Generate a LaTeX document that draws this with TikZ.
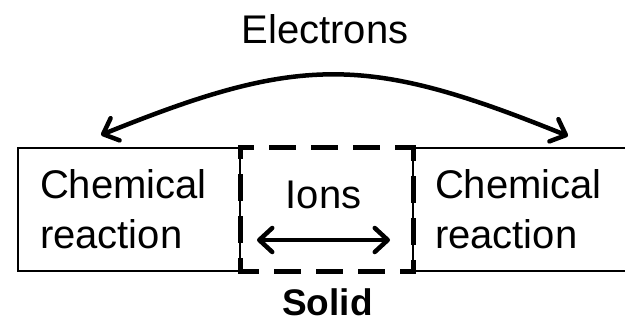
\documentclass[tikz,border=0pt]{standalone}
\usepackage{fontspec}
\setmainfont{Liberation Sans}
\usetikzlibrary{arrows.meta}
\begin{document}
\begin{tikzpicture}[x=1pt,y=-1pt,
  reactbox/.style={draw, line width=2.2pt, outer sep=0pt, anchor=north west,
    minimum width=222pt, minimum height=123pt, text width=178pt,
    inner xsep=22pt, inner ysep=0pt, align=left,
    font=\fontsize{40}{50}\selectfont},
  label/.style={font=\fontsize{40}{50}\selectfont, anchor=base, inner sep=0pt},
  solidbox/.style={draw=none, outer sep=0pt, inner sep=0pt, anchor=north west,
    minimum width=173pt, minimum height=124pt},
  dashside/.style={line width=5pt, line cap=rect, dash pattern=on 22pt off 20pt, dash phase=11pt},
  flow/.style={line width=4.5pt, {Straight Barb[length=13pt,width=24pt,round]}-{Straight Barb[length=13pt,width=24pt,round]}}
]
\useasboundingbox (0,0) rectangle (625,322);
\clip (0,0) rectangle (625,322);
% boxes
\node[reactbox] (left) at (18,148) {Chemical\\reaction};
\node[reactbox] (right) at (413,148) {Chemical\\reaction};
\node[solidbox] (sbox) at (240,147) {};
\draw[dashside] (sbox.north west) -- (sbox.north east);
\draw[dashside] (sbox.north east) -- (sbox.south east);
\draw[dashside] (sbox.south east) -- (sbox.south west);
\draw[dashside] (sbox.south west) -- (sbox.north west);
% labels
\node[label] (electrons) at (325,43) {Electrons};
\node[label] (ions) at (323.5,208) {Ions};
\node[label, font=\bfseries\fontsize{37}{44}\selectfont] (solid) at (327.5,315) {Solid};
% arrows
\coordinate (eL) at (101,135);
\coordinate (eR) at (568,136);
\draw[flow] (eL) .. controls (301,54) and (368,55) .. (eR);
\coordinate (iL) at (257,240);
\coordinate (iR) at (390,240);
\draw[flow] (iL) -- (iR);
\end{tikzpicture}
\end{document}
